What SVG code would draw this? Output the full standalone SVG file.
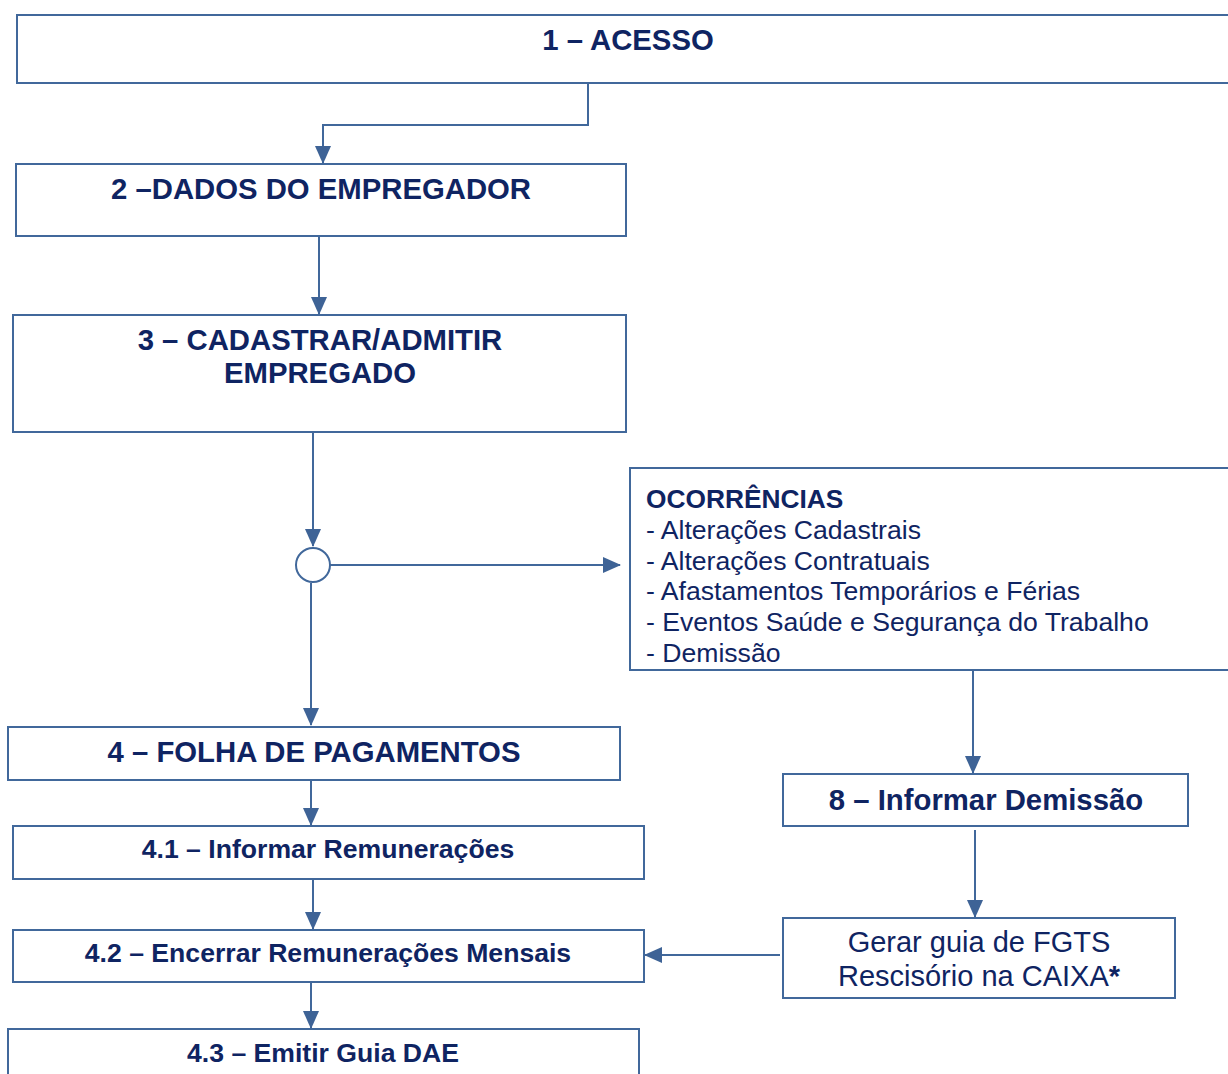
<svg xmlns="http://www.w3.org/2000/svg" width="1228" height="1074" viewBox="0 0 1228 1074">
<style>
.box{fill:#fff;stroke:#41689b;stroke-width:2}
.t{font-family:"Liberation Sans",Arial,sans-serif;fill:#0f2462}
.b{font-weight:bold}
.c{text-anchor:middle}
.ln{fill:none;stroke:#41689b;stroke-width:2}
</style>
<defs>
<marker id="ah" markerUnits="userSpaceOnUse" markerWidth="18" markerHeight="16" viewBox="0 0 18 16" refX="17" refY="8" orient="auto">
<path d="M0,0 L18,8 L0,16 Z" fill="#3e6396"/>
</marker>
</defs>
<rect width="1228" height="1074" fill="#fff"/>
<g id="connectors">
<path class="ln" d="M588,84 V125 H323 V163" marker-end="url(#ah)"/>
<path class="ln" d="M319,237 V314" marker-end="url(#ah)"/>
<path class="ln" d="M313,433 V546" marker-end="url(#ah)"/>
<path class="ln" d="M330,565 H620" marker-end="url(#ah)"/>
<path class="ln" d="M311,583 V725" marker-end="url(#ah)"/>
<path class="ln" d="M311,781 V825" marker-end="url(#ah)"/>
<path class="ln" d="M313,880 V929" marker-end="url(#ah)"/>
<path class="ln" d="M311,983 V1028" marker-end="url(#ah)"/>
<path class="ln" d="M973,671 V773" marker-end="url(#ah)"/>
<path class="ln" d="M975,830 V917" marker-end="url(#ah)"/>
<path class="ln" d="M780,955 H645" marker-end="url(#ah)"/>
</g>
<g id="n1">
<rect class="box" x="17" y="15" width="1220" height="68"/>
<text class="t b c" x="628" y="50" font-size="29.3">1 – ACESSO</text>
</g>
<g id="n2">
<rect class="box" x="16" y="164" width="610" height="72"/>
<text class="t b c" x="321" y="199" font-size="29.3">2 –DADOS DO EMPREGADOR</text>
</g>
<g id="n3">
<rect class="box" x="13" y="315" width="613" height="117"/>
<text class="t b c" x="320" y="350" font-size="29.3">3 – CADASTRAR/ADMITIR</text>
<text class="t b c" x="320" y="383" font-size="29.3">EMPREGADO</text>
</g>
<g id="junction">
<circle cx="313" cy="565" r="17" fill="#fff" stroke="#41689b" stroke-width="2"/>
</g>
<g id="ocorrencias">
<rect class="box" x="630" y="468" width="610" height="202"/>
<text class="t b" x="646" y="508" font-size="26.3">OCORRÊNCIAS</text>
<text class="t" x="646" y="539" font-size="26.6">- Alterações Cadastrais</text>
<text class="t" x="646" y="570" font-size="26.6">- Alterações Contratuais</text>
<text class="t" x="646" y="600" font-size="26.6">- Afastamentos Temporários e Férias</text>
<text class="t" x="646" y="631" font-size="26.6">- Eventos Saúde e Segurança do Trabalho</text>
<text class="t" x="646" y="662" font-size="26.6">- Demissão</text>
</g>
<g id="n4">
<rect class="box" x="8" y="727" width="612" height="53"/>
<text class="t b c" x="314" y="762" font-size="29.3">4 – FOLHA DE PAGAMENTOS</text>
</g>
<g id="n41">
<rect class="box" x="13" y="826" width="631" height="53"/>
<text class="t b c" x="328" y="858" font-size="26.6">4.1 – Informar Remunerações</text>
</g>
<g id="n42">
<rect class="box" x="13" y="930" width="631" height="52"/>
<text class="t b c" x="328" y="962" font-size="26.6">4.2 – Encerrar Remunerações Mensais</text>
</g>
<g id="n43">
<rect class="box" x="8" y="1029" width="631" height="60"/>
<text class="t b c" x="323" y="1062" font-size="26.6">4.3 – Emitir Guia DAE</text>
</g>
<g id="n8">
<rect class="box" x="783" y="774" width="405" height="52"/>
<text class="t b c" x="986" y="810" font-size="29.3">8 – Informar Demissão</text>
</g>
<g id="fgts">
<rect class="box" x="783" y="918" width="392" height="80"/>
<text class="t c" x="979" y="952" font-size="29">Gerar guia de FGTS</text>
<text class="t c" x="979" y="986" font-size="29">Rescisório na CAIXA<tspan class="b">*</tspan></text>
</g>
</svg>
